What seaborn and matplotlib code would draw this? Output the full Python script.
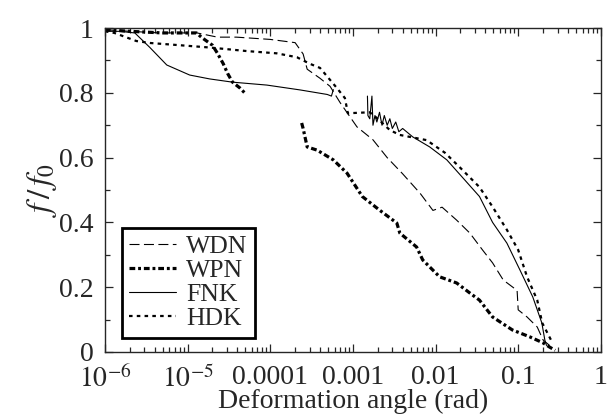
import seaborn as sns
import matplotlib.pyplot as plt
from matplotlib.ticker import MultipleLocator, LogLocator, NullFormatter

# ---- data (x = deformation angle, y = f/f0) ----
wdn_x = [1e-6, 2e-6, 4.6e-6, 1.3e-5, 2.3e-5, 3.9e-5, 1e-4, 2e-4, 2.5e-4, 2.8e-4, 4.0e-4,
         5.3e-4, 7.0e-4, 1.12e-3, 1.75e-3, 2.6e-3, 4.0e-3, 6.5e-3, 9.3e-3, 1.2e-2, 1.8e-2,
         2.6e-2, 3.7e-2, 4.9e-2, 6.6e-2, 9.7e-2, 0.1, 0.128, 0.17, 0.20, 0.24]
wdn_y = [0.995, 0.99, 0.985, 0.985, 0.972, 0.972, 0.965, 0.955, 0.92, 0.873, 0.845,
         0.82, 0.77, 0.695, 0.655, 0.60, 0.55, 0.49, 0.437, 0.447, 0.407,
         0.367, 0.315, 0.275, 0.222, 0.19, 0.13, 0.108, 0.077, 0.037, 0.02]

wpn_x1 = [1e-6, 2e-6, 5e-6, 1e-5, 1.28e-5, 1.5e-5, 2.0e-5, 2.3e-5, 2.7e-5, 3.05e-5,
          3.5e-5, 4.3e-5, 4.9e-5]
wpn_y1 = [0.995, 0.99, 0.985, 0.985, 0.985, 0.97, 0.947, 0.922, 0.89, 0.86,
          0.833, 0.815, 0.80]
wpn_x2 = [2.4e-4, 2.5e-4, 2.8e-4, 3.7e-4, 5.8e-4, 8.5e-4, 1.3e-3, 2.1e-3, 3.4e-3, 3.7e-3,
          5.9e-3, 7.0e-3, 1.12e-2, 1.8e-2, 2.6e-2, 3.4e-2, 4.9e-2, 8.5e-2, 0.14, 0.20,
          0.24, 0.28]
wpn_y2 = [0.707, 0.69, 0.633, 0.623, 0.593, 0.552, 0.48, 0.438, 0.398, 0.367,
          0.324, 0.284, 0.232, 0.213, 0.182, 0.16, 0.108, 0.068, 0.046, 0.028,
          0.015, 0.005]

fnk_x1 = [1e-6, 1.5e-6, 2.3e-6, 3.5e-6, 5.6e-6, 1.06e-5, 1.85e-5, 3.5e-5, 9.1e-5, 2.3e-4,
          4.9e-4, 5.5e-4, 5.8e-4]
fnk_y1 = [0.99, 0.99, 0.985, 0.94, 0.886, 0.855, 0.843, 0.833, 0.824, 0.809,
          0.795, 0.79, 0.81]
fnk_x2 = [1.50e-3, 1.52e-3, 1.60e-3, 1.70e-3, 1.75e-3, 1.85e-3, 1.95e-3, 2.1e-3, 2.25e-3,
          2.4e-3, 2.6e-3, 2.8e-3, 3.0e-3, 3.3e-3, 3.6e-3, 4.0e-3, 5.3e-3, 8.5e-3, 1.37e-2,
          2.1e-2, 3.4e-2, 4.9e-2, 7.3e-2, 0.105, 0.15, 0.193, 0.21, 0.22]
fnk_y2 = [0.79, 0.73, 0.72, 0.79, 0.70, 0.73, 0.71, 0.74, 0.70,
          0.73, 0.70, 0.72, 0.69, 0.71, 0.68, 0.69, 0.664, 0.633, 0.593,
          0.54, 0.48, 0.40, 0.336, 0.253, 0.17, 0.09, 0.037, 0.02]

hdk_x = [1e-6, 1.3e-6, 2.4e-6, 3.5e-6, 8.1e-6, 1.85e-5, 5.2e-5, 1.2e-4, 2.1e-4, 3.0e-4,
         4.0e-4, 6.4e-4, 8.0e-4, 8.7e-4, 1.6e-3, 2.0e-3, 2.8e-3, 3.7e-3, 7.8e-3, 1.3e-2,
         1.95e-2, 3.4e-2, 4.9e-2, 7.3e-2, 0.1, 0.128, 0.17, 0.195, 0.26]
hdk_y = [0.99, 0.985, 0.96, 0.954, 0.947, 0.94, 0.929, 0.922, 0.91, 0.89,
         0.877, 0.815, 0.784, 0.737, 0.74, 0.72, 0.685, 0.67, 0.654, 0.615,
         0.571, 0.509, 0.448, 0.377, 0.315, 0.232, 0.16, 0.09, 0.028]

x_ticks = [1e-6, 1e-5, 1e-4, 1e-3, 1e-2, 1e-1, 1]
x_labels = [r'$10^{-6}$', r'$10^{-5}$', '0.0001', '0.001', '0.01', '0.1', '1']
y_ticks = [0, 0.2, 0.4, 0.6, 0.8, 1]
y_labels = ['0', '0.2', '0.4', '0.6', '0.8', '1']

sns.set_style('ticks')
plt.rcParams['font.family'] = 'serif'
plt.rcParams['font.serif'] = ['Liberation Serif', 'Times New Roman', 'DejaVu Serif']
plt.rcParams['mathtext.fontset'] = 'stix'

fig = plt.figure(figsize=(6.1, 4.19), dpi=100)
ax = fig.add_axes([0.172, 0.160, 0.813, 0.773])

# series: (segments, label, style)
series = [
    ([(wdn_x, wdn_y)], 'WDN', dict(lw=0.8, dashes=(9, 4))),
    ([(wpn_x1, wpn_y1), (wpn_x2, wpn_y2)], 'WPN', dict(lw=2.3, dashes=(1.8, 0.9, 0.9, 0.9))),
    ([(fnk_x1, fnk_y1), (fnk_x2, fnk_y2)], 'FNK', dict(lw=0.8)),
    ([(hdk_x, hdk_y)], 'HDK', dict(lw=1.6, dashes=(1.6, 1.9))),
]
for segs, name, st in series:
    for i, (xs, ys) in enumerate(segs):
        sns.lineplot(x=xs, y=ys, ax=ax, color='black', sort=False, estimator=None,
                     label=name if i == 0 else None, **st)

ax.set_xscale('log')
ax.set_xlim(1e-6, 1)
ax.set_ylim(0, 1)
ax.set_xticks(x_ticks)
ax.set_xticklabels(x_labels)
ax.xaxis.set_minor_locator(LogLocator(base=10, subs=range(2, 10), numticks=20))
ax.xaxis.set_minor_formatter(NullFormatter())
ax.set_yticks(y_ticks)
ax.set_yticklabels(y_labels)
ax.yaxis.set_minor_locator(MultipleLocator(0.1))

ax.tick_params(which='both', direction='in', top=True, right=True, labelsize=20, width=0.9)
ax.tick_params(which='major', length=6)
ax.tick_params(which='minor', length=3.5)
ax.tick_params(axis='x', pad=9.5)
ax.tick_params(axis='y', pad=8)
for spine in ax.spines.values():
    spine.set_linewidth(1)

ax.set_xlabel('Deformation angle (rad)', fontsize=20, labelpad=-2.5)
ax.set_ylabel(r'$f\,/\,f_0$', fontsize=24, labelpad=0)

leg = ax.legend(loc='lower left', bbox_to_anchor=(0.034, 0.043), borderaxespad=0,
                frameon=True, fancybox=False, edgecolor='black', framealpha=1,
                fontsize=18.5, handlelength=1.8, handletextpad=0.4, labelspacing=0.04,
                borderpad=0.3)
leg.get_frame().set_linewidth(2)

fig.savefig('out.png', dpi=100)
